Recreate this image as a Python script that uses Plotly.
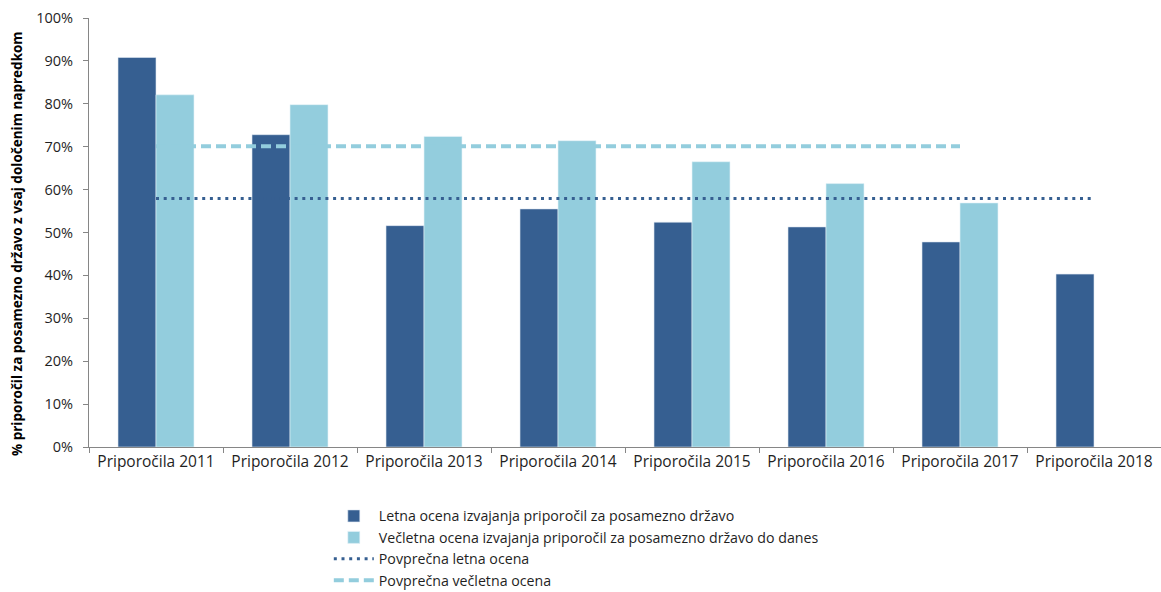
import plotly.graph_objects as go

categories = ["Priporočila 2011", "Priporočila 2012", "Priporočila 2013", "Priporočila 2014",
              "Priporočila 2015", "Priporočila 2016", "Priporočila 2017", "Priporočila 2018"]
annual = [90.8, 72.8, 51.6, 55.5, 52.4, 51.3, 47.8, 40.3]
multiannual = [82.1, 79.8, 72.4, 71.4, 66.5, 61.4, 56.9, None]
avg_annual = [57.9, 57.9, 57.9, 57.9, 57.9, 57.9, 57.9, 57.9]
avg_multi = [70.1, 70.1, 70.1, 70.1, 70.1, 70.1, 70.1, None]
y_ticks = [0, 10, 20, 30, 40, 50, 60, 70, 80, 90, 100]
y_tick_labels = ["0%", "10%", "20%", "30%", "40%", "50%", "60%", "70%", "80%", "90%", "100%"]
y_title = "% priporočil za posamezno državo z vsaj določenim napredkom"

DARK = "#365F91"
LIGHT = "#93CDDD"
FONT = "Open Sans"
TXT = "#1f1f1f"

fig = go.Figure()
fig.add_trace(go.Bar(x=categories, y=annual, name="Letna ocena izvajanja priporočil za posamezno državo",
                     marker=dict(color=DARK, line=dict(color="#dfe8f2", width=0.6))))
fig.add_trace(go.Bar(x=categories, y=multiannual,
                     name="Večletna ocena izvajanja priporočil za posamezno državo do danes",
                     marker=dict(color=LIGHT, line=dict(color="#e6f4f8", width=0.6))))
fig.add_trace(go.Scatter(x=categories, y=avg_annual, name="Povprečna letna ocena", mode="lines",
                         line=dict(color=DARK, width=3, dash="3px,4.7px")))
fig.add_trace(go.Scatter(x=categories, y=avg_multi, name="Povprečna večletna ocena", mode="lines",
                         line=dict(color=LIGHT, width=4, dash="10px,5px")))

fig.add_annotation(text="<b>" + y_title + "</b>", textangle=-90, xref="paper", yref="paper",
                   x=-0.0672, y=0.4755, xanchor="center", yanchor="middle", showarrow=False,
                   font=dict(family=FONT, size=13.5, color="#000000"))

fig.update_layout(
    width=1161, height=592,
    margin=dict(l=89, r=0, t=18, b=145, autoexpand=False),
    plot_bgcolor="white", paper_bgcolor="white",
    barmode="group", bargap=0.433, bargroupgap=0,
    font=dict(family=FONT, size=15.5, color=TXT),
    showlegend=True,
    legend=dict(x=0.2237, y=-0.124, xanchor="left", yanchor="top", orientation="v",
                font=dict(family=FONT, size=14.2, color=TXT), tracegroupgap=0,
                itemwidth=40, bgcolor="rgba(0,0,0,0)"),
    xaxis=dict(showline=True, linecolor="#868686", linewidth=1, ticks="outside",
               tickson="boundaries", ticklen=5, tickcolor="#868686", showgrid=False,
               automargin=False, tickfont=dict(size=15.5)),
    yaxis=dict(range=[0, 100], tickvals=y_ticks, ticktext=y_tick_labels, showline=True,
               linecolor="#868686", linewidth=1, ticks="outside", ticklen=5, tickcolor="#868686",
               showgrid=False, zeroline=False, automargin=False, tickfont=dict(size=14.5),
               ticklabelstandoff=7),
)

fig.write_html("out.html", config={"displayModeBar": False},
               post_script="document.body.style.margin='0px';")
